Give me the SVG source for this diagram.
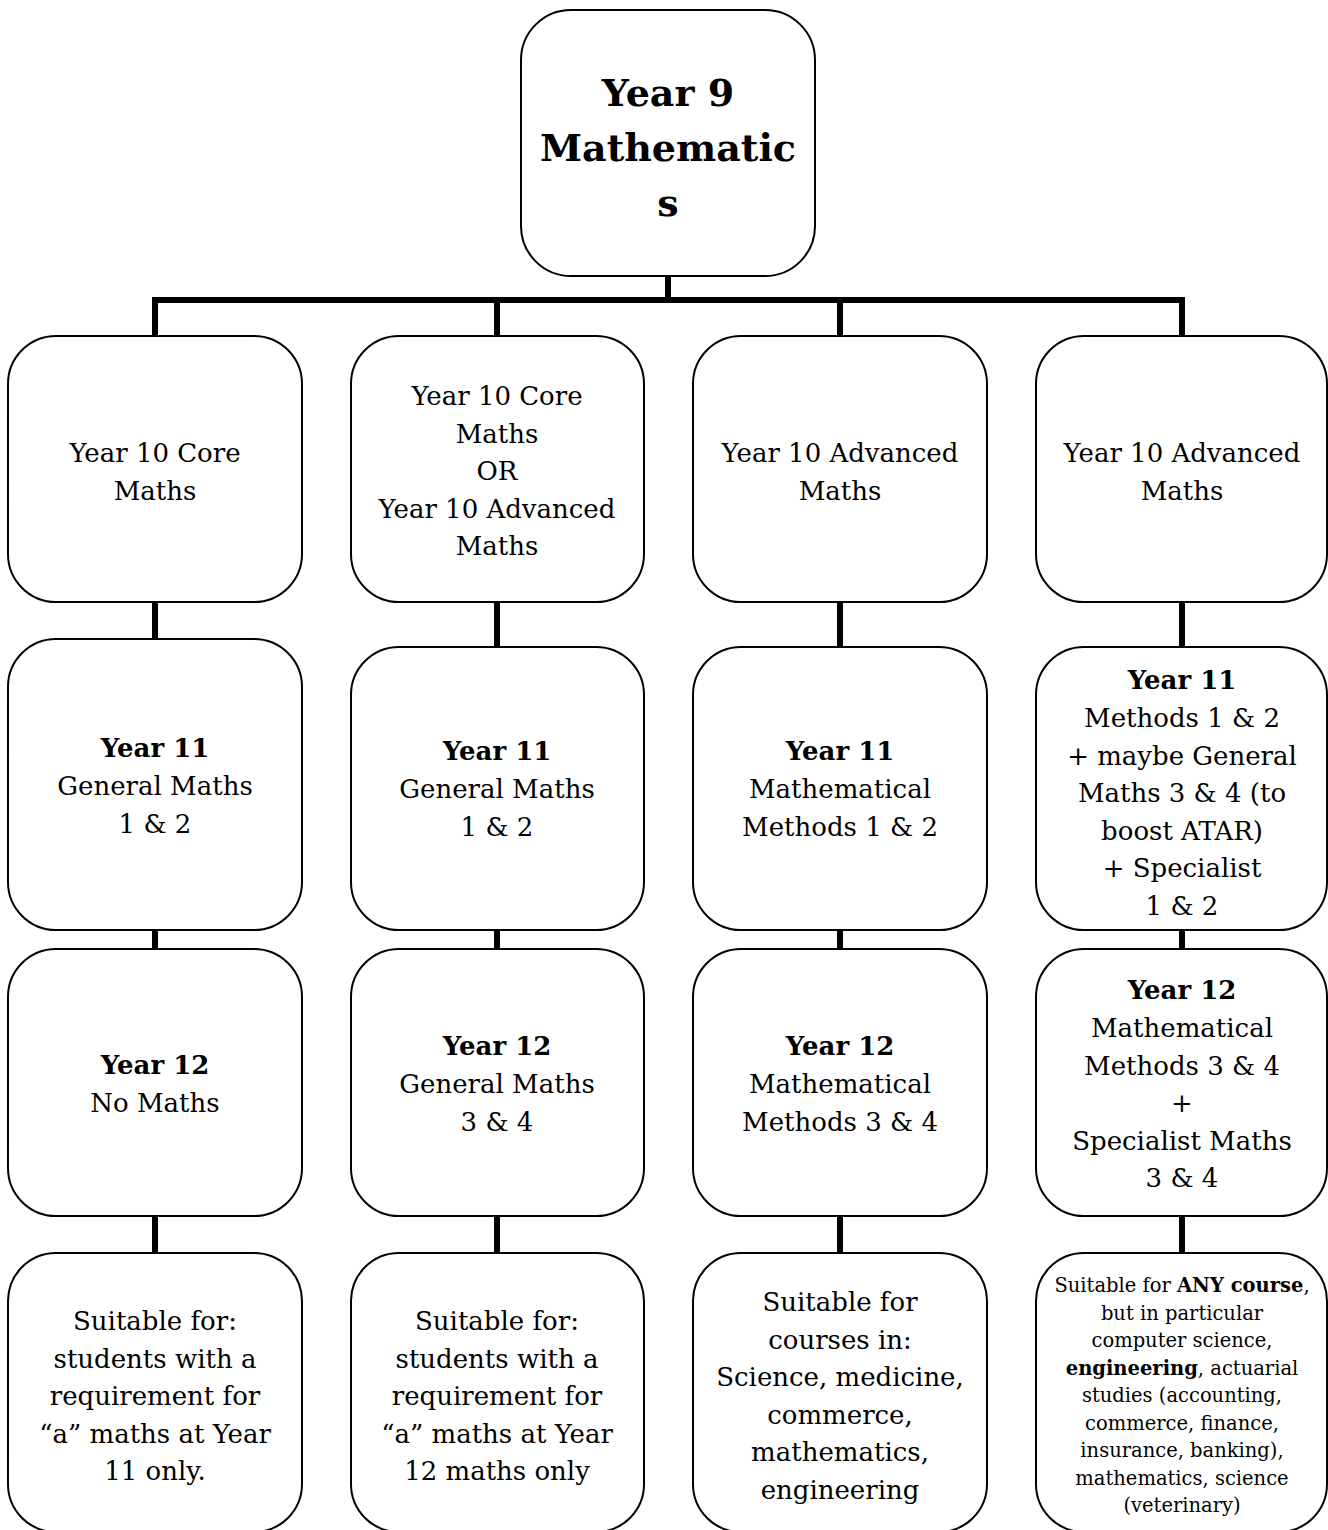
<svg xmlns="http://www.w3.org/2000/svg" width="1328" height="1530" viewBox="0 0 1328 1530">
<style>
.box{fill:#fff;stroke:#000;stroke-width:2}
.con{stroke:#000;stroke-width:6;fill:none}
text{font-family:"DejaVu Serif","Liberation Serif",serif;font-size:26px;text-anchor:middle;fill:#000}
.b{font-weight:bold}
.title{font-size:38px;font-weight:bold}
.sm{font-size:19.5px}
</style>
<rect width="1328" height="1530" fill="#fff"/>
<g id="connectors">
<path class="con" d="M668 276V300M152 300H1185M155 300V336M497 300V336M840 300V336M1182 300V336"/>
<path class="con" d="M155 602V640M497 602V647M840 602V647M1182 602V647"/>
<path class="con" d="M155 930V949M497 930V949M840 930V949M1182 930V949"/>
<path class="con" d="M155 1216V1253M497 1216V1253M840 1216V1253M1182 1216V1253"/>
</g>
<g id="year9">
<rect class="box" x="521" y="10" width="294" height="266" rx="50"/>
<text class="title" x="668" y="106">Year 9</text>
<text class="title" x="668" y="161">Mathematic</text>
<text class="title" x="668" y="216">s</text>
</g>
<g id="y10-core">
<rect class="box" x="8" y="336" width="294" height="266" rx="48"/>
<text x="155" y="462">Year 10 Core</text>
<text x="155" y="500">Maths</text>
</g>
<g id="y10-core-or-adv">
<rect class="box" x="351" y="336" width="293" height="266" rx="48"/>
<text x="497" y="405">Year 10 Core</text>
<text x="497" y="442.5">Maths</text>
<text x="497" y="480">OR</text>
<text x="497" y="517.5">Year 10 Advanced</text>
<text x="497" y="555">Maths</text>
</g>
<g id="y10-adv-a">
<rect class="box" x="693" y="336" width="294" height="266" rx="48"/>
<text x="840" y="462">Year 10 Advanced</text>
<text x="840" y="500">Maths</text>
</g>
<g id="y10-adv-b">
<rect class="box" x="1036" y="336" width="291" height="266" rx="48"/>
<text x="1182" y="462">Year 10 Advanced</text>
<text x="1182" y="500">Maths</text>
</g>
<g id="y11-general-a">
<rect class="box" x="8" y="639" width="294" height="291" rx="48"/>
<text class="b" x="155" y="757">Year 11</text>
<text x="155" y="795">General Maths</text>
<text x="155" y="833">1 &amp; 2</text>
</g>
<g id="y11-general-b">
<rect class="box" x="351" y="647" width="293" height="283" rx="48"/>
<text class="b" x="497" y="760">Year 11</text>
<text x="497" y="798">General Maths</text>
<text x="497" y="836">1 &amp; 2</text>
</g>
<g id="y11-methods">
<rect class="box" x="693" y="647" width="294" height="283" rx="48"/>
<text class="b" x="840" y="760">Year 11</text>
<text x="840" y="798">Mathematical</text>
<text x="840" y="836">Methods 1 &amp; 2</text>
</g>
<g id="y11-methods-specialist">
<rect class="box" x="1036" y="647" width="291" height="283" rx="48"/>
<text class="b" x="1182" y="689">Year 11</text>
<text x="1182" y="727">Methods 1 &amp; 2</text>
<text x="1182" y="764.5">+ maybe General</text>
<text x="1182" y="802">Maths 3 &amp; 4 (to</text>
<text x="1182" y="840">boost ATAR)</text>
<text x="1182" y="877">+ Specialist</text>
<text x="1182" y="915">1 &amp; 2</text>
</g>
<g id="y12-none">
<rect class="box" x="8" y="949" width="294" height="267" rx="48"/>
<text class="b" x="155" y="1074">Year 12</text>
<text x="155" y="1112">No Maths</text>
</g>
<g id="y12-general">
<rect class="box" x="351" y="949" width="293" height="267" rx="48"/>
<text class="b" x="497" y="1055">Year 12</text>
<text x="497" y="1093">General Maths</text>
<text x="497" y="1131">3 &amp; 4</text>
</g>
<g id="y12-methods">
<rect class="box" x="693" y="949" width="294" height="267" rx="48"/>
<text class="b" x="840" y="1055">Year 12</text>
<text x="840" y="1093">Mathematical</text>
<text x="840" y="1131">Methods 3 &amp; 4</text>
</g>
<g id="y12-methods-specialist">
<rect class="box" x="1036" y="949" width="291" height="267" rx="48"/>
<text class="b" x="1182" y="999">Year 12</text>
<text x="1182" y="1037">Mathematical</text>
<text x="1182" y="1075">Methods 3 &amp; 4</text>
<text x="1182" y="1112">+</text>
<text x="1182" y="1150">Specialist Maths</text>
<text x="1182" y="1187">3 &amp; 4</text>
</g>
<g id="suit-11">
<rect class="box" x="8" y="1253" width="294" height="279" rx="48"/>
<text x="155" y="1330">Suitable for:</text>
<text x="155" y="1367.5">students with a</text>
<text x="155" y="1405">requirement for</text>
<text x="155" y="1442.5">“a” maths at Year</text>
<text x="155" y="1480">11 only.</text>
</g>
<g id="suit-12">
<rect class="box" x="351" y="1253" width="293" height="279" rx="48"/>
<text x="497" y="1330">Suitable for:</text>
<text x="497" y="1367.5">students with a</text>
<text x="497" y="1405">requirement for</text>
<text x="497" y="1442.5">“a” maths at Year</text>
<text x="497" y="1480">12 maths only</text>
</g>
<g id="suit-methods">
<rect class="box" x="693" y="1253" width="294" height="279" rx="48"/>
<text x="840" y="1311">Suitable for</text>
<text x="840" y="1348.5">courses in:</text>
<text x="840" y="1386">Science, medicine,</text>
<text x="840" y="1423.5">commerce,</text>
<text x="840" y="1461">mathematics,</text>
<text x="840" y="1498.5">engineering</text>
</g>
<g id="suit-any">
<rect class="box" x="1036" y="1253" width="291" height="279" rx="48"/>
<text class="sm" x="1182" y="1292">Suitable for <tspan class="b">ANY course</tspan>,</text>
<text class="sm" x="1182" y="1319.5">but in particular</text>
<text class="sm" x="1182" y="1347">computer science,</text>
<text class="sm" x="1182" y="1374.5"><tspan class="b">engineering</tspan>, actuarial</text>
<text class="sm" x="1182" y="1402">studies (accounting,</text>
<text class="sm" x="1182" y="1429.5">commerce, finance,</text>
<text class="sm" x="1182" y="1457">insurance, banking),</text>
<text class="sm" x="1182" y="1484.5">mathematics, science</text>
<text class="sm" x="1182" y="1512">(veterinary)</text>
</g>
</svg>
